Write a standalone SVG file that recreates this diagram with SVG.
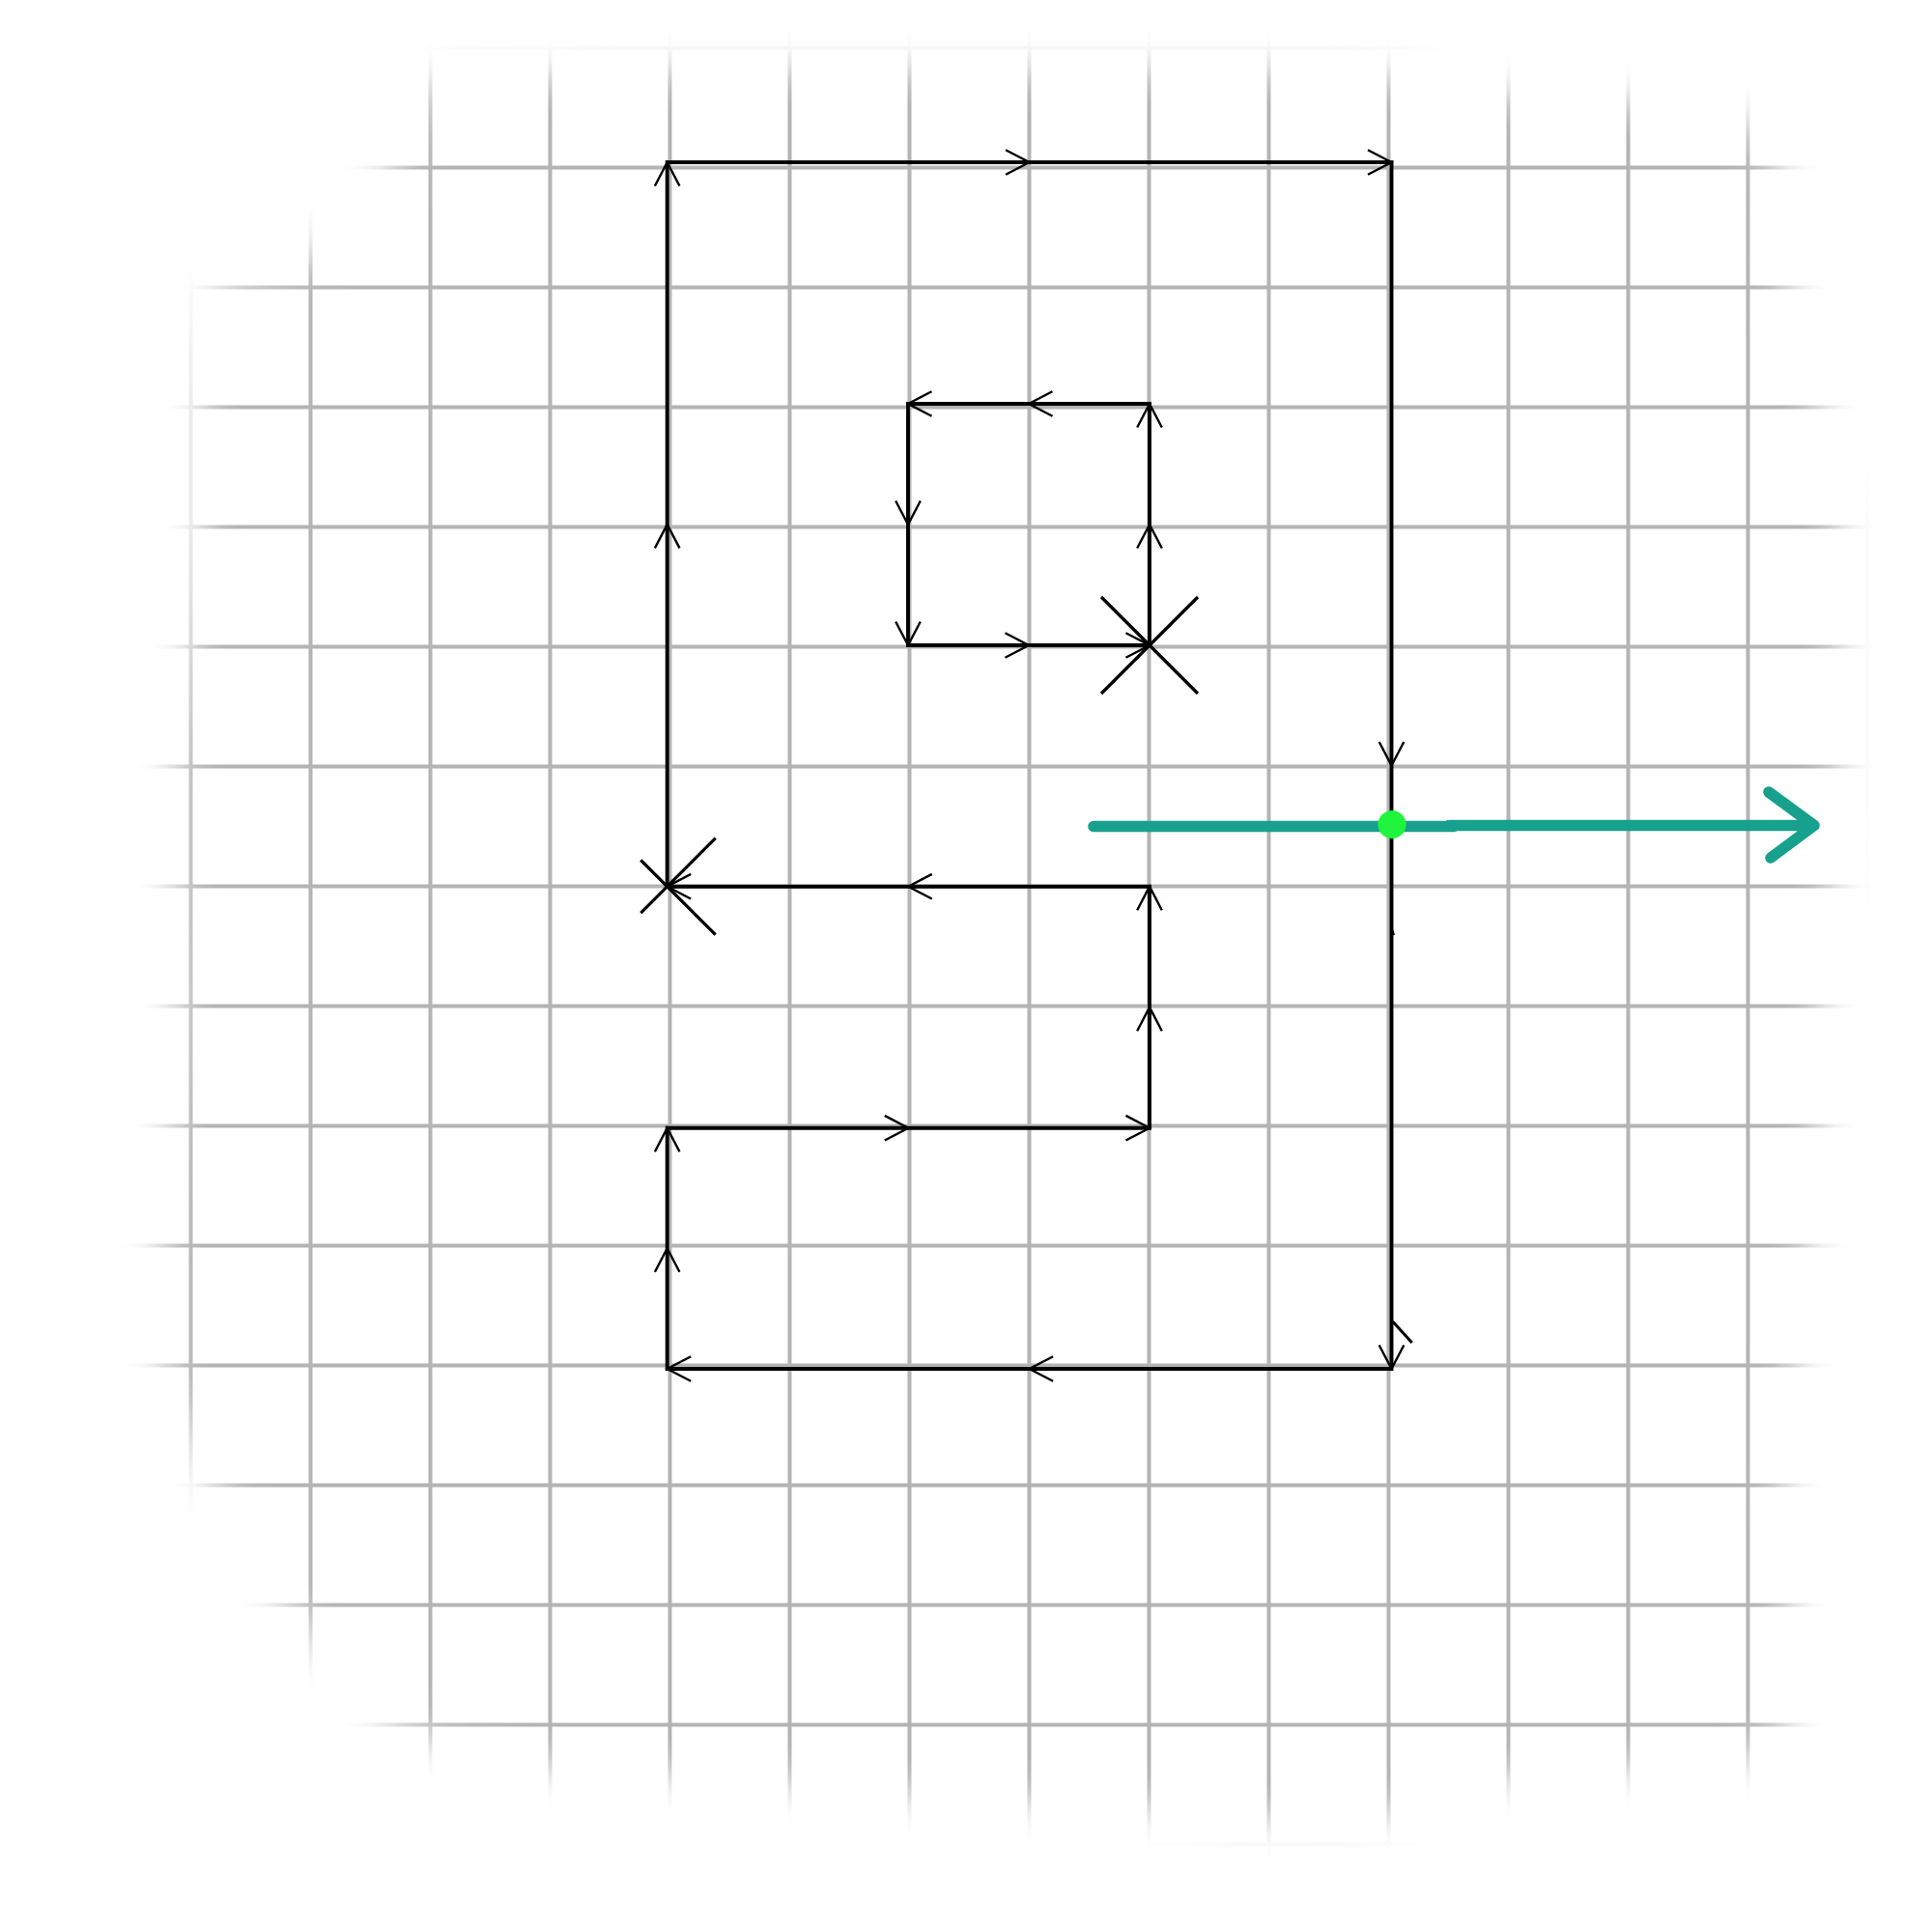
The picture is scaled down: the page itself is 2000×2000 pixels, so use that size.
<svg xmlns="http://www.w3.org/2000/svg" width="2000" height="2000" viewBox="0 0 2000 2000">
<style>
.grid{stroke:#b4b4b4;stroke-width:4;fill:none}
.edge{stroke:#000;stroke-width:3.9;fill:none;stroke-linecap:square;stroke-linejoin:miter}
.arr{stroke:none;fill:none;marker-mid:url(#ah);marker-end:url(#ah)}
.xm{stroke:#000;stroke-width:3.2;fill:none}
.teal{stroke:#17a08d;stroke-width:11.5;fill:none;stroke-linecap:round;stroke-linejoin:round}
</style>
<defs>
<filter id="blur" filterUnits="userSpaceOnUse" x="0" y="0" width="2000" height="2000">
<feGaussianBlur stdDeviation="20"/>
</filter>
<mask id="fade" maskUnits="userSpaceOnUse" x="0" y="0" width="2000" height="2000">
<rect x="0" y="0" width="2000" height="2000" fill="#000"/>
<path fill="#fff" filter="url(#blur)" d="M225,297 L321,270 L410,173 L445,83 L570,80 L694,73 L1314,73 L1438,80 L1562,100 L1686,105 L1810,125 L1844,173 L1850,297 L1883,421 L1902,545 L1902,793 L1896,917 L1883,1041 L1883,1165 L1870,1289 L1858,1413 L1845,1537 L1852,1661 L1852,1785 L1810,1823 L1686,1830 L1562,1837 L1438,1877 L1314,1883 L1190,1870 L1066,1864 L942,1858 L818,1845 L694,1837 L570,1830 L446,1803 L410,1785 L330,1700 L295,1661 L215,1520 L168,1413 L168,1289 L178,1165 L185,1041 L182,917 L182,793 L198,669 L210,545 L210,421 Z"/>
</mask>
<marker id="ah" markerUnits="userSpaceOnUse" markerWidth="40" markerHeight="40" viewBox="-30 -20 40 40" refX="0" refY="0" orient="auto" overflow="visible">
<path d="M-24.5,-12.8 L0,0 L-24.5,12.8" fill="none" stroke="#000" stroke-width="2.4"/>
</marker>
</defs>
<rect width="2000" height="2000" fill="#fff"/>
<g id="grid" class="grid" mask="url(#fade)">
<path d="M73.5,0V2000M197.5,0V2000M321.5,0V2000M445.5,0V2000M569.5,0V2000M693.5,0V2000M817.5,0V2000M941.5,0V2000M1065.5,0V2000M1189.5,0V2000M1313.5,0V2000M1437.5,0V2000M1561.5,0V2000M1685.5,0V2000M1809.5,0V2000M1933.5,0V2000"/>
<path d="M0,49.5H2000M0,173.5H2000M0,297.5H2000M0,421.5H2000M0,545.5H2000M0,669.5H2000M0,793.5H2000M0,917.5H2000M0,1041.5H2000M0,1165.5H2000M0,1289.5H2000M0,1413.5H2000M0,1537.5H2000M0,1661.5H2000M0,1785.5H2000M0,1909.5H2000"/>
</g>
<g id="connectors">
<path id="outer-loop" class="edge" d="M690.7,917.7 V168 H1440.5 V1417 H690.7 V1167.7 H1190 V917.7 Z"/>
<path id="inner-loop" class="edge" d="M1190,668 V418 H940 V668 Z"/>
<path class="arr" d="M690.7,917.7 L690.7,542.9 L690.7,168"/>
<path class="arr" d="M690.7,168 L1065.6,168 L1440.5,168"/>
<path class="arr" d="M1440.5,168 L1440.5,792.5 L1440.5,1417"/>
<path class="arr" d="M1440.5,1417 L1065.6,1417 L690.7,1417"/>
<path class="arr" d="M690.7,1417 L690.7,1292.3 L690.7,1167.7"/>
<path class="arr" d="M690.7,1167.7 L940.3,1167.7 L1190,1167.7"/>
<path class="arr" d="M1190,1167.7 L1190,1042.7 L1190,917.7"/>
<path class="arr" d="M1190,917.7 L940.3,917.7 L690.7,917.7"/>
<path class="arr" d="M1190,668 L1190,543 L1190,418"/>
<path class="arr" d="M1190,418 L1065,418 L940,418"/>
<path class="arr" d="M940,418 L940,543 L940,668"/>
<path class="arr" d="M940,668 L1065,668 L1190,668"/>
<path d="M1441.7,1368 L1461.7,1390" stroke="#000" stroke-width="3" fill="none"/>
<path d="M1441.5,963 L1443,968" stroke="#000" stroke-width="2" fill="none"/>
</g>
<g id="start-marker-inner">
<path class="xm" d="M1140,618 L1240,718 M1140,718 L1240,618"/>
</g>
<g id="start-marker-outer">
<path class="xm" d="M663.3,890.3 L740.7,967.7 M663.3,945.1 L740.7,867.7"/>
</g>
<g id="probe-arrow">
<path class="teal" d="M1132,855.5 L1505,855.5"/>
<path class="teal" d="M1500,854.5 L1878,854.5 M1831,820 L1878,854.5 L1833,888"/>
</g>
<g id="probe-point">
<circle cx="1441" cy="853.5" r="14.5" fill="#1ef53c"/>
</g>
</svg>
